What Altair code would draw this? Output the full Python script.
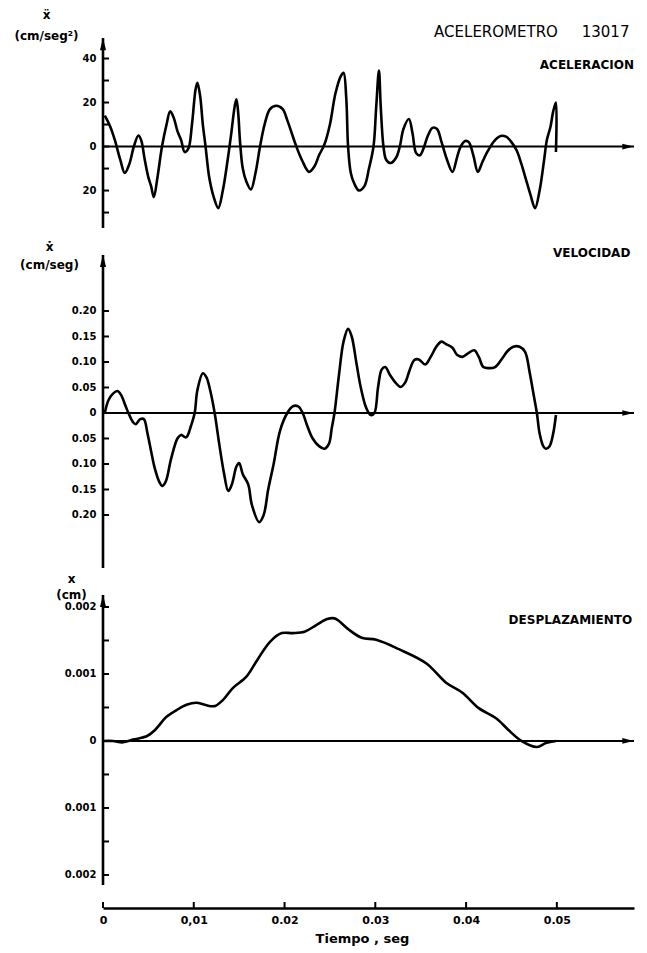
import json
import altair as alt
import pandas as pd

FONT = "DejaVu Sans"
T_MAX = 0.0585
PLOT_W = 531

# ---------------- data ----------------
acc_t = [0.0002, 0.0008, 0.0013, 0.0019, 0.0024, 0.0029, 0.0034, 0.0039, 0.0042, 0.0046,
         0.0050, 0.0053, 0.0056, 0.0060, 0.0065, 0.0070, 0.0074, 0.0078, 0.0082, 0.0086,
         0.0090, 0.0094, 0.0098, 0.0102, 0.0104, 0.0107, 0.0110, 0.0113, 0.0117, 0.0122,
         0.0127, 0.0132, 0.0137, 0.0141, 0.0145, 0.0147, 0.0149, 0.0151, 0.0154, 0.0158,
         0.0163, 0.0168, 0.0173, 0.0178, 0.0184, 0.0191, 0.0198, 0.0203, 0.0208, 0.0213,
         0.0219, 0.0227, 0.0233, 0.0238, 0.0244, 0.0250, 0.0256, 0.0262, 0.0265, 0.0268,
         0.0270, 0.0273, 0.0277, 0.0282, 0.0288, 0.0293, 0.0298, 0.0301, 0.0304, 0.0306,
         0.0309, 0.0312, 0.0317, 0.0323, 0.0327, 0.0331, 0.0337, 0.0341, 0.0345, 0.0349,
         0.0353, 0.0358, 0.0363, 0.0368, 0.0373, 0.0379, 0.0385, 0.0390, 0.0394, 0.0399,
         0.0403, 0.0408, 0.0413, 0.0418, 0.0424, 0.0431, 0.0438, 0.0444, 0.0450, 0.0456,
         0.0461, 0.0466, 0.0471, 0.0476, 0.0481, 0.0486, 0.0489, 0.0493, 0.0496, 0.0499,
         0.0499]
acc_v = [14, 9, 3, -6, -12, -8, 0, 5, 3, -6,
         -14, -18, -23, -14, 0, 10, 16, 13, 7, 3,
         -2.5, -1, 10, 26, 29, 23, 10, 0, -14, -23,
         -28, -20, -7, 5, 18, 21.5, 15, 2, -10, -16,
         -19.5, -12, 0, 10, 17, 18.5, 17, 12, 6, 0,
         -6, -11.5, -9, -4, 1, 10, 24, 32, 33.5, 22,
         0, -12, -17, -20, -18, -10, 0, 18, 34.5, 18,
         0, -6, -7.5, -5, 0, 8, 12.5, 6, -3, -4,
         -1, 5, 8.5, 8, 2, -6, -11.5, -5, 0, 2.5,
         2, -4, -11.5, -7, -2, 2.5, 4.8, 4.5, 2, -2,
         -8, -15, -22, -28, -20, -6, 3, 9, 16, 20,
         -2.5]

vel_t = [0.0002, 0.0006, 0.0011, 0.0016, 0.0020, 0.0025, 0.0028, 0.0033, 0.0036, 0.0041,
         0.0045, 0.0049, 0.0053, 0.0057, 0.0062, 0.0065, 0.0069, 0.0075, 0.0082, 0.0086,
         0.0091, 0.0093, 0.0097, 0.0101, 0.0104, 0.0110, 0.0114, 0.0118, 0.0123, 0.0128,
         0.0133, 0.0138, 0.0142, 0.0147, 0.0150, 0.0154, 0.0160, 0.0164, 0.0172, 0.0177,
         0.0182, 0.0188, 0.0195, 0.0203, 0.0209, 0.0215, 0.0220, 0.0225, 0.0231, 0.0238,
         0.0244, 0.0249, 0.0252, 0.0255, 0.0260, 0.0265, 0.0270, 0.0274, 0.0279, 0.0284,
         0.0290, 0.0295, 0.0299, 0.0303, 0.0307, 0.0311, 0.0316, 0.0322, 0.0328, 0.0333,
         0.0338, 0.0343, 0.0348, 0.0355, 0.0361, 0.0368, 0.0373, 0.0378, 0.0385, 0.0390,
         0.0396, 0.0403, 0.0409, 0.0414, 0.0419, 0.0425, 0.0432, 0.0439, 0.0446, 0.0452,
         0.0459, 0.0465, 0.0470, 0.0474, 0.0478, 0.0481, 0.0485, 0.0488, 0.0492, 0.0496,
         0.0499]
vel_v = [0.0, 0.025, 0.038, 0.043, 0.035, 0.013, 0.0, -0.018, -0.022, -0.012,
         -0.012, -0.04, -0.075, -0.108, -0.135, -0.143, -0.135, -0.09, -0.05, -0.043,
         -0.048, -0.045, -0.025, 0.0, 0.045, 0.078, 0.07, 0.045, 0.0, -0.06,
         -0.115, -0.153, -0.14, -0.105, -0.098, -0.12, -0.14, -0.18, -0.214, -0.2,
         -0.15, -0.1, -0.035, 0.0, 0.013, 0.013, 0.0, -0.025, -0.05, -0.065,
         -0.07, -0.06, -0.03, 0.0, 0.075, 0.14, 0.165, 0.15, 0.1, 0.05,
         0.01, -0.004, 0.0, 0.05, 0.085, 0.09, 0.075, 0.06, 0.051, 0.06,
         0.085, 0.104, 0.105, 0.095, 0.11, 0.132, 0.14, 0.135, 0.128, 0.114,
         0.11, 0.118, 0.123, 0.11, 0.09, 0.088, 0.09, 0.105, 0.122, 0.13,
         0.13, 0.12, 0.08, 0.04, 0.0, -0.04, -0.065, -0.07, -0.065, -0.04,
         -0.004]

dis_t = [0.0, 0.0011, 0.0022, 0.0033, 0.0048, 0.0057, 0.0070, 0.0081, 0.0092, 0.0103,
         0.0112, 0.0123, 0.0132, 0.0143, 0.0158, 0.0170, 0.0184, 0.0197, 0.0209, 0.0222,
         0.0235, 0.0247, 0.0255, 0.0260, 0.0271, 0.0285, 0.0301, 0.0326, 0.0356, 0.0378,
         0.0396, 0.0414, 0.0433, 0.0447, 0.0460, 0.0478, 0.0488, 0.0499]
dis_v = [0.0, 0.0, -0.00002, 0.00002, 0.00007, 0.00016, 0.00036, 0.00046, 0.00054, 0.00057,
         0.00054, 0.00052, 0.00061, 0.00079, 0.00096, 0.00121, 0.00148, 0.00161, 0.00161, 0.00163,
         0.00173, 0.00182, 0.00183, 0.00179, 0.00166, 0.00154, 0.00151, 0.00137, 0.00116, 0.00087,
         0.00072, 0.00049, 0.00034, 0.00016, 0.00001, -0.00009, -0.00003, 0.0]

acc_major = [40, 20, 0, -20]
acc_minor = [30, 10, -10, -30]
vel_major = [0.20, 0.15, 0.10, 0.05, 0, -0.05, -0.10, -0.15, -0.20]
vel_minor = []
dis_major = [0.002, 0.001, 0, -0.001, -0.002]
dis_minor = [0.0015, 0.0005, -0.0005, -0.0015]
time_ticks = [0, 0.01, 0.02, 0.03, 0.04, 0.05]
time_labels = ["0", "0,01", "0.02", "0.03", "0.04", "0.05"]

# ---------------- helpers ----------------
BLACK = "black"
UP_ARROW = "M0,-1L0.5,1L-0.5,1Z"
RIGHT_ARROW = "M1,0L-1,-0.5L-1,0.5Z"


def panel(t, v, dom, ax_lo, ax_hi, major, minor, label_expr, title_lines,
          title_x, title_y, title_lh, labels, height, x_axis=None, bottom_ticks=False):
    xs = alt.Scale(domain=[0, T_MAX], nice=False, zero=False)
    ys = alt.Scale(domain=dom, nice=False, zero=False)
    yaxis = alt.Axis(values=major, labelExpr=label_expr, ticks=False, tickSize=0,
                     domain=False, grid=False, labelPadding=7, labelFont=FONT,
                     labelFontWeight="bold", labelFontSize=10, labelColor=BLACK,
                     title=title_lines, titleAngle=0, titleAlign="center",
                     titleBaseline="alphabetic", titleX=title_x, titleY=title_y,
                     titleLineHeight=title_lh, titleFont=FONT, titleFontWeight="bold",
                     titleFontSize=12, titleColor=BLACK)
    X = alt.X("t:Q", scale=xs, axis=x_axis)
    Y = alt.Y("v:Q", scale=ys, axis=yaxis)

    curve = alt.Chart(pd.DataFrame({"t": t, "v": v, "i": list(range(len(t)))})).mark_line(
        color=BLACK, strokeWidth=2.6, interpolate="catmull-rom", strokeJoin="round"
    ).encode(x=X, y=Y, order="i:Q")

    zero = alt.Chart(pd.DataFrame({"t": [0], "t2": [T_MAX], "v": [0]})).mark_rule(
        color=BLACK, strokeWidth=2
    ).encode(x=X, x2="t2:Q", y=Y)
    zero_arrow = alt.Chart(pd.DataFrame({"t": [T_MAX], "v": [0]})).mark_point(
        shape=RIGHT_ARROW, filled=True, color=BLACK, opacity=1, size=130, xOffset=-6
    ).encode(x=X, y=Y)

    yline = alt.Chart(pd.DataFrame({"t": [0], "v": [ax_lo], "v2": [ax_hi]})).mark_rule(
        color=BLACK, strokeWidth=2.6
    ).encode(x=X, y=Y, y2="v2:Q")
    yarrow = alt.Chart(pd.DataFrame({"t": [0], "v": [ax_hi]})).mark_point(
        shape=UP_ARROW, filled=True, color=BLACK, opacity=1, size=150, yOffset=6
    ).encode(x=X, y=Y)

    tick_len = T_MAX * 6 / PLOT_W
    ticks = alt.Chart(pd.DataFrame({"t": [0] * len(major + minor), "t2": [tick_len] * len(major + minor),
                                    "v": major + minor})).mark_rule(
        color=BLACK, strokeWidth=2
    ).encode(x=X, x2="t2:Q", y=Y)

    layers = [zero, zero_arrow, yline, yarrow, ticks, curve]

    for (txt, tx, vy, size, weight) in labels:
        layers.append(
            alt.Chart(pd.DataFrame({"t": [tx], "v": [vy], "s": [txt]})).mark_text(
                align="right", baseline="middle", font=FONT, fontSize=size,
                fontWeight=weight, color=BLACK
            ).encode(x=X, y=Y, text="s:N")
        )

    if bottom_ticks:
        px = (dom[1] - dom[0]) / height
        layers.append(
            alt.Chart(pd.DataFrame({"t": time_ticks, "v": [dom[0]] * len(time_ticks),
                                    "v2": [dom[0] + 6 * px] * len(time_ticks)})).mark_rule(
                color=BLACK, strokeWidth=2
            ).encode(x=X, y=Y, y2="v2:Q")
        )

    return alt.layer(*layers).properties(width=PLOT_W, height=height)


NBSP = "\u00a0"

acc = panel(
    acc_t, acc_v, [-40.2, 57.5], -37, 49.3, acc_major, acc_minor,
    "format(abs(datum.value), 'd')",
    ["ẍ", "(cm/seg²)"], -57, -2, 21,
    [("ACELEROMETRO" + NBSP * 5 + "13017", 0.0580, 52, 15, "normal"),
     ("ACELERACION", T_MAX, 37, 12, "bold")],
    215,
)

vel = panel(
    vel_t, vel_v, [-0.3118, 0.349], -0.304, 0.31, vel_major, vel_minor,
    "datum.value == 0 ? '0' : format(abs(datum.value), '.2f')",
    ["ẋ", "(cm/seg)"], -54, 15, 18,
    [("VELOCIDAD", 0.0581, 0.3137, 12, "bold")],
    337,
)

x_axis = alt.Axis(values=time_ticks, labelExpr=f"{json.dumps(time_labels)}[round(datum.value * 100)]",
                  ticks=False, tickSize=0, domain=True, domainColor=BLACK, domainWidth=2.5,
                  grid=False, labelPadding=6, labelFont=FONT, labelFontWeight="bold",
                  labelFontSize=11, labelColor=BLACK, labelFlush=False,
                  title="Tiempo , seg", titleFont=FONT, titleFontWeight="bold",
                  titleFontSize=13, titleColor=BLACK, titleX=259, titleY=34,
                  titleBaseline="alphabetic")

dis = panel(
    dis_t, dis_v, [-0.002493, 0.002522], -0.00215, 0.00218, dis_major, dis_minor,
    "datum.value == 0 ? '0' : format(abs(datum.value), '.3f')",
    ["x", "(cm)"], -32, 10, 16,
    [("DESPLAZAMIENTO", 0.0583, 0.001806, 12, "bold")],
    336, x_axis=x_axis, bottom_ticks=True,
)

chart = alt.vconcat(acc, vel, dis, spacing=0, bounds="flush").properties(
    padding={"left": 5, "top": 0, "right": 0, "bottom": 3},
    background="white",
).configure_view(stroke=None)

chart.save("out.html", embed_options={"renderer": "svg", "actions": False})
